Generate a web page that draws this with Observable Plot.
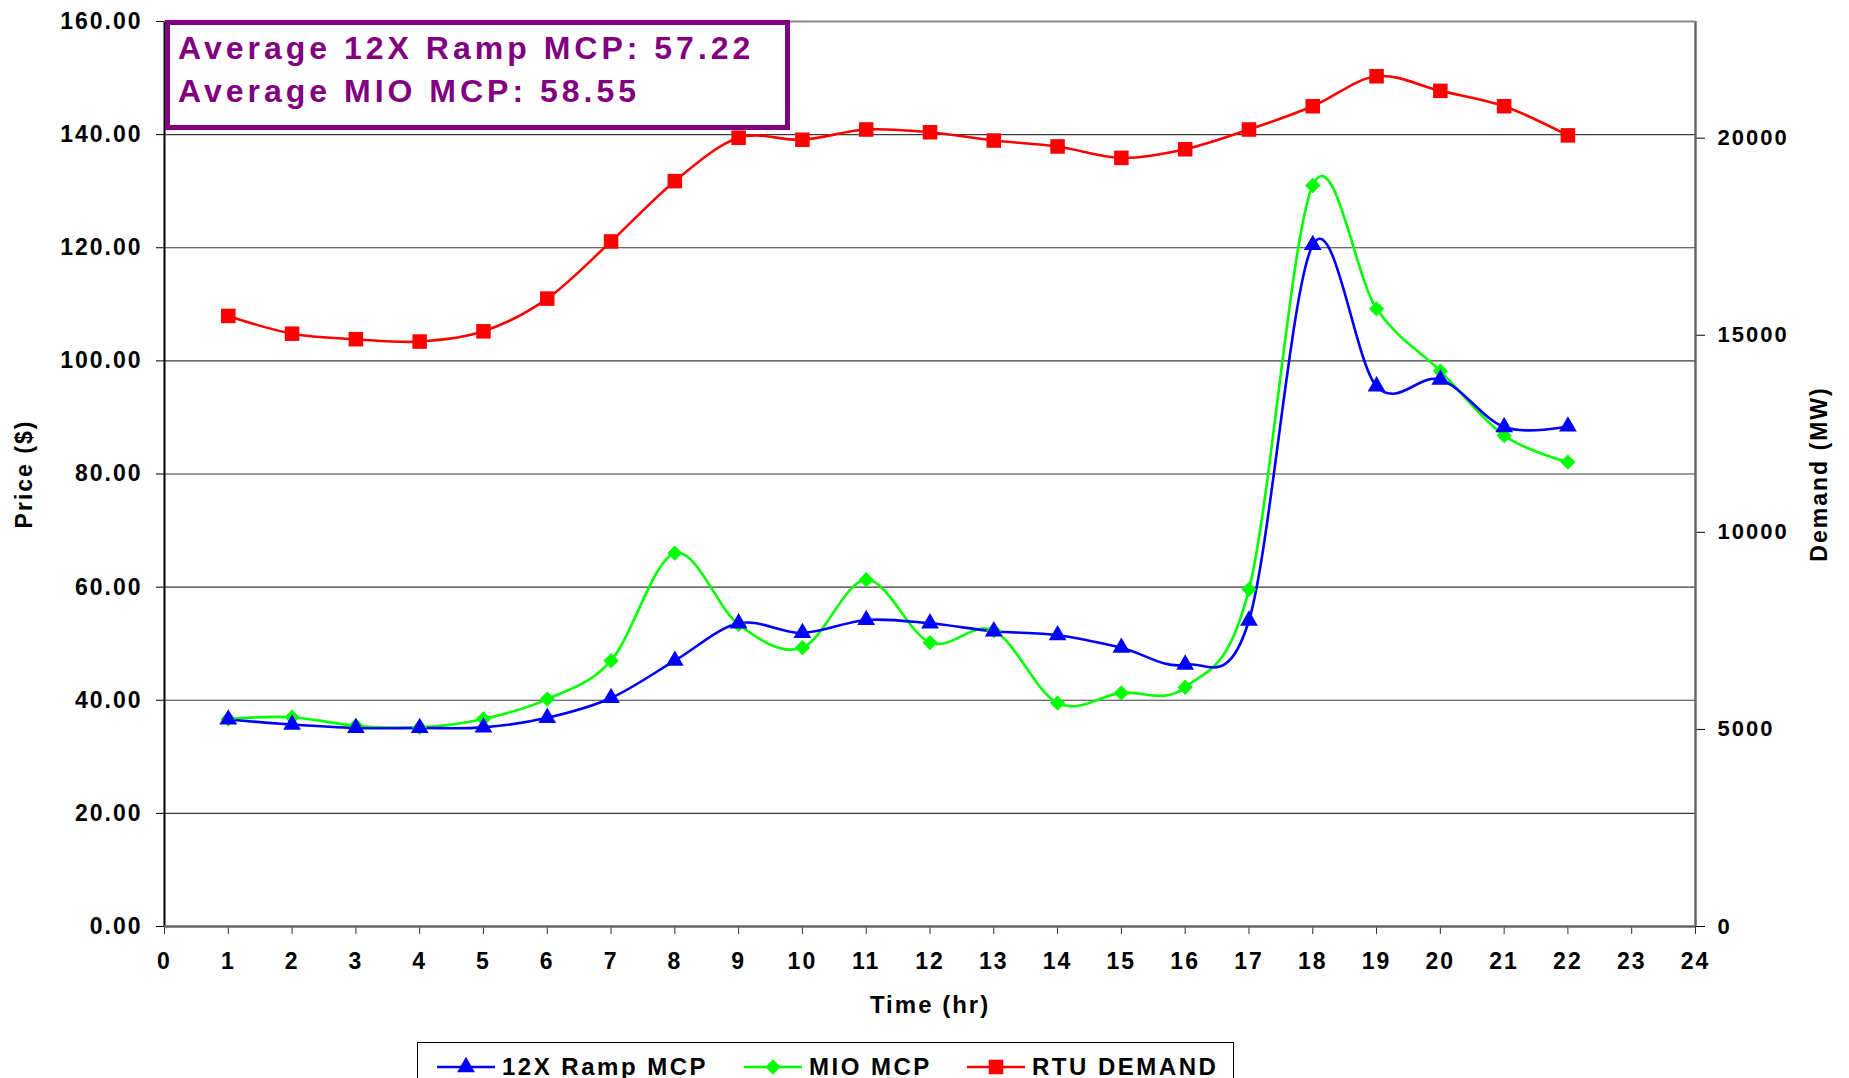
<!DOCTYPE html>
<html>
<head>
<meta charset="utf-8">
<script src="https://cdn.jsdelivr.net/npm/d3@7"></script>
<script src="https://cdn.jsdelivr.net/npm/@observablehq/plot@0.6"></script>
<style>
  html, body { margin: 0; padding: 0; background: #fff; overflow: hidden; }
  body { position: relative; width: 1849px; height: 1078px; font-family: "Liberation Sans", Arial, sans-serif; }
  #chart svg text { letter-spacing: 2px; }
  #note {
    position: absolute; left: 165px; top: 20px; width: 615px; height: 100px;
    border: 5px solid #800080; background: #fff; color: #800080;
    font-weight: bold; font-size: 32px; letter-spacing: 4px;
  }
  #note div { position: absolute; left: 8px; white-space: nowrap; line-height: 1; }
  #legend {
    position: absolute; left: 417px; top: 1042px; width: 815px; height: 80px;
    border: 1.5px solid #000; background: #fff;
    font-weight: bold; font-size: 24px; letter-spacing: 2.5px;
  }
  .item { position: absolute; top: 0; height: 48px; display: flex; align-items: center; white-space: nowrap; }
</style>
</head>
<body>
<div id="chart"></div>
<div id="note"></div>
<div id="legend"></div>
<script>
// ---- data ----
const hours = [1, 2, 3, 4, 5, 6, 7, 8, 9, 10, 11, 12, 13, 14, 15, 16, 17, 18, 19, 20, 21, 22];
const rampMCP = [36.6, 35.7, 35.1, 35.1, 35.2, 36.9, 40.4, 47.0, 53.6, 51.9, 54.2, 53.6, 52.2, 51.5, 49.3, 46.3, 54.1, 120.5, 95.5, 96.7, 88.3, 88.4];
const mioMCP = [36.7, 37.0, 35.5, 35.2, 36.7, 40.2, 47.0, 66.0, 53.4, 49.3, 61.3, 50.2, 52.3, 39.5, 41.3, 42.3, 59.6, 131.0, 109.2, 98.2, 86.8, 82.1];
const rtuDemand = [15490, 15040, 14900, 14840, 15100, 15930, 17380, 18910, 20010, 19960, 20220, 20150, 19940, 19790, 19500, 19720, 20220, 20810, 21570, 21200, 20810, 20070];
const seriesNames = ["12X Ramp MCP", "MIO MCP", "RTU DEMAND"];
const seriesColors = ["#0000FF", "#00FF00", "#FF0000"];
const seriesSymbols = ["triangle", "diamond2", "square"];
const priceTicks = [0, 20, 40, 60, 80, 100, 120, 140, 160];
const demandTicks = [0, 5000, 10000, 15000, 20000];
const hourTicks = d3.range(0, 25);
const priceMax = 160;
const demandMax = 22960;
const noteLines = ["Average 12X Ramp MCP: 57.22", "Average MIO MCP: 58.55"];

// ---- build ----
const toPrice = d => d * priceMax / demandMax;
const ramp = hours.map((h, i) => ({hour: h, value: rampMCP[i]}));
const mio = hours.map((h, i) => ({hour: h, value: mioMCP[i]}));
const dem = hours.map((h, i) => ({hour: h, value: toPrice(rtuDemand[i])}));
const sets = [ramp, mio, dem];
const radii = [6.6, 6.9, 8.2];

const W = 1849, H = 1042;
const marks = [
  Plot.gridY(priceTicks, {stroke: "#3a3a3a", strokeOpacity: 1, strokeWidth: 1.2}),
  Plot.axisX(hourTicks, {tickSize: 8, tickPadding: 18, label: null, fontSize: 23, fontWeight: "bold", stroke: "#333"}),
  Plot.axisY(priceTicks, {anchor: "left", tickSize: 8, tickPadding: 14, label: null, tickFormat: d => d.toFixed(2), fontSize: 23, fontWeight: "bold"}),
  Plot.axisY(demandTicks.map(toPrice), {anchor: "right", tickSize: 9, tickPadding: 13, label: null, tickFormat: d => String(Math.round(d * demandMax / priceMax / 1000) * 1000), fontSize: 22, fontWeight: "bold"}),
  Plot.ruleX([0], {stroke: "#000", strokeWidth: 2}),
  Plot.ruleX([24], {stroke: "#666", strokeWidth: 2.5}),
  Plot.ruleY([0], {stroke: "#666", strokeWidth: 2.5}),
  Plot.ruleY([priceMax], {stroke: "#888", strokeWidth: 2}),
  Plot.text(["Time (hr)"], {frameAnchor: "bottom", dy: 79, fontSize: 24, fontWeight: "bold", textAnchor: "middle", lineAnchor: "middle"}),
  Plot.text(["Price ($)"], {frameAnchor: "left", dx: -140, rotate: -90, fontSize: 23, fontWeight: "bold", textAnchor: "middle", lineAnchor: "middle"}),
  Plot.text(["Demand (MW)"], {frameAnchor: "right", dx: 124, rotate: -90, fontSize: 23, fontWeight: "bold", textAnchor: "middle", lineAnchor: "middle"})
];
[2, 1, 0].forEach(k => {
  marks.push(Plot.line(sets[k], {x: "hour", y: "value", stroke: seriesColors[k], strokeWidth: 2.6, curve: "cardinal"}));
});
[2, 1, 0].forEach(k => {
  marks.push(Plot.dot(sets[k], {x: "hour", y: "value", symbol: seriesSymbols[k], r: radii[k], fill: seriesColors[k], stroke: "none"}));
});

const chart = Plot.plot({
  width: W, height: H,
  marginLeft: 164, marginRight: 154, marginTop: 21, marginBottom: H - 926,
  x: {domain: [0, 24]},
  y: {domain: [0, priceMax]},
  style: {fontFamily: "'Liberation Sans', Arial, sans-serif", color: "#000", background: "#fff", overflow: "visible"},
  marks
});
document.getElementById("chart").appendChild(chart);

// ---- annotation box ----
const note = document.getElementById("note");
noteLines.forEach((t, i) => {
  const d = document.createElement("div");
  d.textContent = t;
  d.style.top = (i === 0 ? 7 : 50) + "px";
  note.appendChild(d);
});

// ---- legend ----
const legend = document.getElementById("legend");
const swatchLeft = [19, 326, 549];
seriesNames.forEach((name, k) => {
  const it = document.createElement("div");
  it.className = "item";
  it.style.left = swatchLeft[k] + "px";
  const svg = d3.create("svg").attr("width", 58).attr("height", 20).style("margin-right", "7px");
  svg.append("line").attr("x1", 0).attr("x2", 58).attr("y1", 10).attr("y2", 10).attr("stroke", seriesColors[k]).attr("stroke-width", 2.6);
  const sym = {triangle: d3.symbolTriangle, diamond2: d3.symbolDiamond2, square: d3.symbolSquare}[seriesSymbols[k]];
  svg.append("path").attr("transform", "translate(29,10)").attr("d", d3.symbol(sym, Math.PI * radii[k] * radii[k])()).attr("fill", seriesColors[k]);
  it.appendChild(svg.node());
  const span = document.createElement("span");
  span.textContent = name;
  it.appendChild(span);
  legend.appendChild(it);
});
</script>
</body>
</html>
